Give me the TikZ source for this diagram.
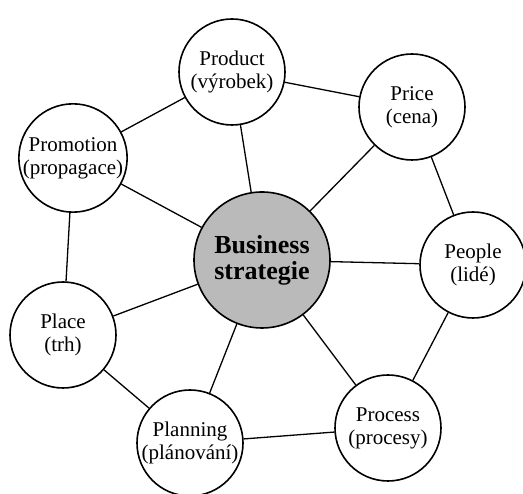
\documentclass[tikz,border=0pt]{standalone}
\usepackage{fontspec}
\setmainfont{Liberation Serif}
\tikzset{mixnode/.style={circle,draw,line width=1.6pt,fill=white,inner sep=0pt,
    minimum size=106pt,align=center,font=\fontsize{21}{23}\selectfont}}
\tikzset{corenode/.style={mixnode,minimum size=136pt,fill=black!27,
    font=\fontsize{26}{26}\selectfont\bfseries}}
\tikzset{mixlink/.style={line width=1.3pt}}

\begin{document}
\begin{tikzpicture}[x=1pt,y=1pt]
  \useasboundingbox (0,0) rectangle (523,494);

  \node [corenode] (core)  at (262,234) {Business\\strategie};
  \node [mixnode]  (prod)  at (232,422) {Product\\(výrobek)};
  \node [mixnode]  (price) at (412,387) {Price\\(cena)};
  \node [mixnode]  (promo) at (73,336)  {Promotion\\(propagace)};
  \node [mixnode]  (people) at (473,229) {People\\(lidé)};
  \node [mixnode]  (place) at (63,159)  {Place\\(trh)};
  \node [mixnode]  (plan)  at (190,51)  {Planning\\(plánování)};
  \node [mixnode]  (proc)  at (388,66)  {Process\\(procesy)};

  % spokes from the core
  \foreach \n in {prod,price,promo,people,place,plan,proc}
    \draw [mixlink] (core) -- (\n);

  % outer ring
  \draw [mixlink] (prod) -- (price);
  \draw [mixlink] (price) -- (people);
  \draw [mixlink] (people) -- (proc);
  \draw [mixlink] (proc) -- (plan);
  \draw [mixlink] (plan) -- (place);
  \draw [mixlink] (place) -- (promo);
  \draw [mixlink] (promo) -- (prod);
\end{tikzpicture}
\end{document}
